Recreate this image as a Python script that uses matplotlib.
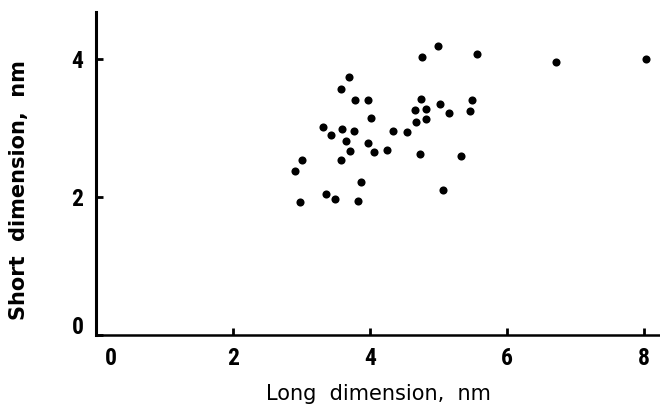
import matplotlib
matplotlib.use("Agg")
import matplotlib.pyplot as plt
from matplotlib import font_manager
from matplotlib.transforms import ScaledTranslation

long_dim = [4.99, 4.75, 5.56, 3.69, 3.57, 3.78, 3.97, 4.74, 5.49, 4.66,
            4.82, 5.02, 5.15, 5.46, 4.01, 4.67, 4.82, 3.31, 3.59, 3.76,
            3.43, 4.34, 4.54, 3.65, 3.97, 3.71, 4.06, 4.24, 4.73, 5.33,
            3.01, 3.58, 2.91, 3.86, 3.35, 3.48, 2.98, 3.82, 5.06, 6.71, 8.02]
short_dim = [4.19, 4.03, 4.07, 3.73, 3.57, 3.41, 3.41, 3.42, 3.40, 3.26,
             3.28, 3.34, 3.21, 3.25, 3.14, 3.09, 3.13, 3.02, 2.98, 2.96,
             2.89, 2.96, 2.94, 2.81, 2.78, 2.66, 2.65, 2.68, 2.62, 2.59,
             2.54, 2.54, 2.37, 2.22, 2.04, 1.97, 1.93, 1.94, 2.10, 3.96, 4.00]
x_ticks = [0, 2, 4, 6, 8]
y_ticks = [0, 2, 4]
x_label = "Long  dimension,  nm"
y_label = "Short  dimension,  nm"

names = {f.name for f in font_manager.fontManager.ttflist}
tick_font = "DejaVu Sans"
for cand in ["Liberation Sans Narrow", "DejaVu Sans Condensed", "Roboto Condensed", "Open Sans Condensed"]:
    if cand in names:
        tick_font = cand
        break

fig = plt.figure(figsize=(6.6, 4.11), dpi=100)
ax = fig.add_axes([0.1455, 0.185, 0.8545, 0.786])
ax.scatter(long_dim, short_dim, s=34, color="black", zorder=3, linewidths=0)
ax.set_xlim(0, 8.23)
ax.set_ylim(0, 4.68)
ax.set_xticks(x_ticks)
ax.set_yticks(y_ticks)
for s in ["top", "right"]:
    ax.spines[s].set_visible(False)
ax.spines["left"].set_linewidth(2.2)
ax.spines["bottom"].set_linewidth(1.8)
ax.tick_params(direction="in", length=5, width=2, colors="black", pad=9)
for lab in ax.get_xticklabels() + ax.get_yticklabels():
    lab.set_fontfamily(tick_font)
    lab.set_fontweight("bold")
    lab.set_fontsize(17)
# original quirks: the "0" labels are shifted off the axis corner
xl0 = ax.get_xticklabels()[0]
xl0.set_transform(xl0.get_transform() + ScaledTranslation(0.15, 0, fig.dpi_scale_trans))
yl0 = ax.get_yticklabels()[0]
yl0.set_transform(yl0.get_transform() + ScaledTranslation(0, 0.10, fig.dpi_scale_trans))
ax.set_xlabel(x_label, fontsize=15, fontfamily="DejaVu Sans", labelpad=10)
ax.set_ylabel(y_label, fontsize=15, fontfamily="DejaVu Sans", fontweight="bold")
ax.yaxis.set_label_coords(-0.118, 0.45)
fig.savefig("out.png", dpi=100)
